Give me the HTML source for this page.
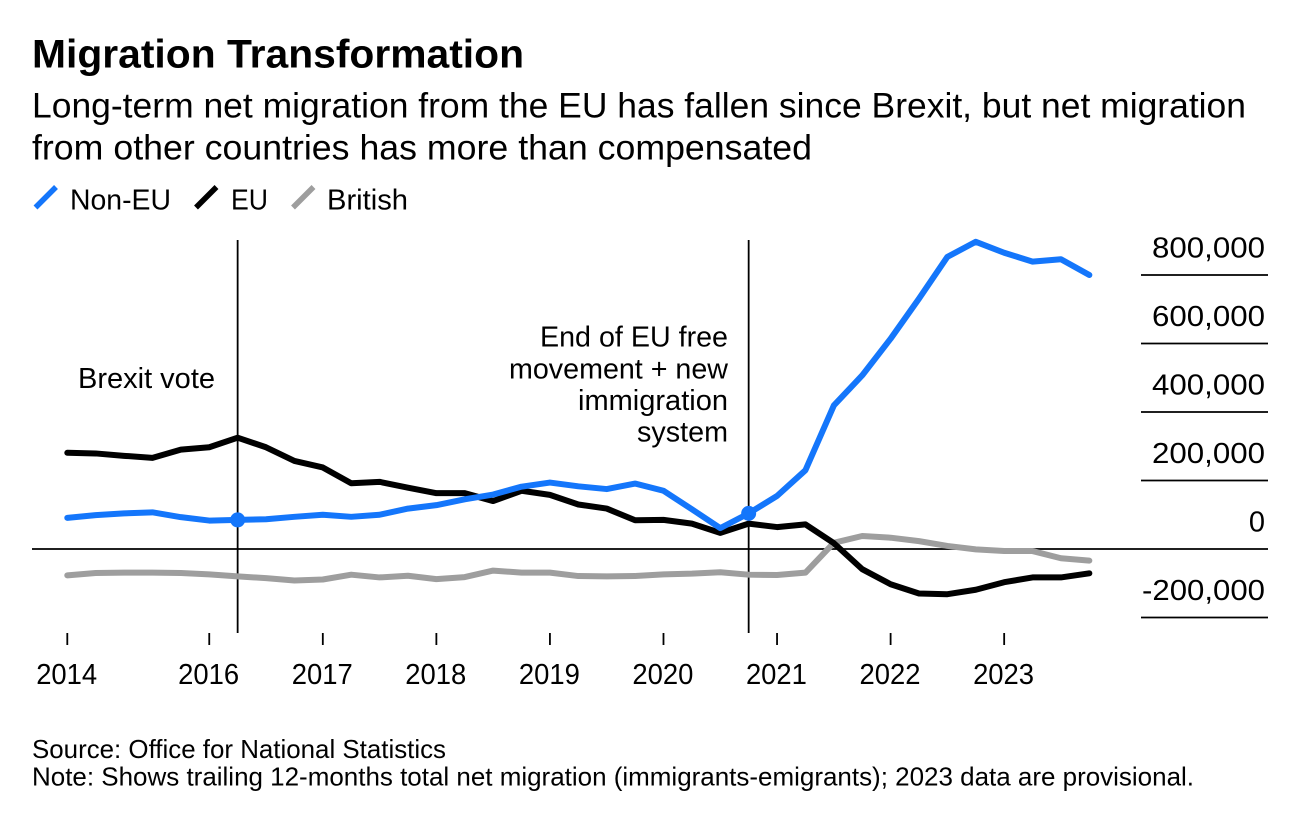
<!DOCTYPE html>
<html lang="en">
<head>
<meta charset="utf-8">
<title>Migration Transformation</title>
<style>
html,body{margin:0;padding:0;background:#fff;width:1310px;height:814px;overflow:hidden}
svg{display:block}
text{font-family:"Liberation Sans",Arial,sans-serif;fill:#000}
</style>
</head>
<body>
<svg id="chart" width="1310" height="814" viewBox="0 0 1310 814" xmlns="http://www.w3.org/2000/svg">
  <text x="32" y="67.500" font-size="40" font-weight="700" textLength="492" lengthAdjust="spacingAndGlyphs">Migration Transformation</text>
  <text x="32" y="117.500" font-size="35" textLength="1214" lengthAdjust="spacingAndGlyphs">Long-term net migration from the EU has fallen since Brexit, but net migration</text>
  <text x="32" y="159.500" font-size="35" textLength="780" lengthAdjust="spacingAndGlyphs">from other countries has more than compensated</text>

  <g>
    <line x1="35.500" y1="207.500" x2="56" y2="187" stroke="#1476fb" stroke-width="5.500"/>
    <text x="70" y="209.500" font-size="29" textLength="101" lengthAdjust="spacingAndGlyphs">Non-EU</text>
    <line x1="196" y1="207.500" x2="216.500" y2="187" stroke="#000" stroke-width="5.500"/>
    <text x="231" y="209.500" font-size="29" textLength="37" lengthAdjust="spacingAndGlyphs">EU</text>
    <line x1="293" y1="207.500" x2="313.500" y2="187" stroke="#9e9e9e" stroke-width="5.500"/>
    <text x="327" y="209.500" font-size="29" textLength="81" lengthAdjust="spacingAndGlyphs">British</text>
  </g>

  <g id="y-axis"></g>
  <g id="x-axis"></g>
  <g id="events"></g>
  <g id="series"></g>
  <g id="markers"></g>

  <text x="215" y="388" font-size="29" text-anchor="end" textLength="137" lengthAdjust="spacingAndGlyphs">Brexit vote</text>
  <g font-size="29" text-anchor="end">
    <text x="728" y="346.700" textLength="188" lengthAdjust="spacingAndGlyphs">End of EU free</text>
    <text x="728" y="378.500" textLength="219" lengthAdjust="spacingAndGlyphs">movement + new</text>
    <text x="728" y="410" textLength="150" lengthAdjust="spacingAndGlyphs">immigration</text>
    <text x="728" y="441.500" textLength="91" lengthAdjust="spacingAndGlyphs">system</text>
  </g>

  <text x="32" y="758" font-size="26" textLength="414" lengthAdjust="spacingAndGlyphs">Source: Office for National Statistics</text>
  <text x="32" y="785.700" font-size="26" textLength="1162" lengthAdjust="spacingAndGlyphs">Note: Shows trailing 12-months total net migration (immigrants-emigrants); 2023 data are provisional.</text>
</svg>
<script>
const categories = ["2014","2015 Q1","2015 Q2","2015 Q3","2015 Q4","2016 Q1","2016 Q2","2016 Q3","2016 Q4","2017 Q1","2017 Q2","2017 Q3","2017 Q4","2018 Q1","2018 Q2","2018 Q3","2018 Q4","2019 Q1","2019 Q2","2019 Q3","2019 Q4","2020 Q1","2020 Q2","2020 Q3","2020 Q4","2021 Q1","2021 Q2","2021 Q3","2021 Q4","2022 Q1","2022 Q2","2022 Q3","2022 Q4","2023 Q1","2023 Q2","2023 Q3","2023 Q4"];
const nonEuValues = [91,99,104,107,93,83,85,87,94,100,94,100,118,128,145,159,182,194,183,175,191,170,116,61,104,155,230,419,507,614,731,853,897,865,839,846,800];
const euValues = [281,279,272,266,290,297,325,297,257,238,192,196,179,163,163,140,170,158,130,118,84,85,74,47,74,64,72,17,-59,-103,-130,-132,-119,-97,-83,-83,-71];
const britishValues = [-77,-70,-69,-69,-70,-74,-80,-85,-92,-89,-75,-83,-78,-88,-82,-63,-69,-69,-79,-80,-79,-74,-72,-68,-75,-76,-69,18,38,33,23,9,-1,-6,-6,-27,-34];
const yTickValues = [800,600,400,200,0,-200];
const yTickLabels = ["800,000","600,000","400,000","200,000","0","-200,000"];
const xTickCategories = ["2014","2016 Q1","2017 Q1","2018 Q1","2019 Q1","2020 Q1","2021 Q1","2022 Q1","2023 Q1"];
const xTickLabels = ["2014","2016","2017","2018","2019","2020","2021","2022","2023"];
const eventCategories = ["2016 Q2","2020 Q4"];

const NS = "http://www.w3.org/2000/svg";
const xStep = 28.39;
const xStart = 67.3;
const yZero = 549;
const yPerThousand = 0.3425;

function xScale(category) {
  return xStart + categories.indexOf(category) * xStep;
}
function yScale(value) {
  return yZero - value * yPerThousand;
}
function make(tag, parent, attrs) {
  const el = document.createElementNS(NS, tag);
  for (const k in attrs) el.setAttribute(k, attrs[k]);
  parent.appendChild(el);
  return el;
}

const yAxis = document.getElementById("y-axis");
yTickValues.forEach(function (v, i) {
  const isZero = v === 0;
  const rule = make("line", yAxis, {x1: isZero ? 32 : 1141, x2: 1268, y1: yScale(v), y2: yScale(v), stroke: "#000", "stroke-width": 1.8});
  
  
  const label = make("text", yAxis, {x: 1265, y: yScale(v) - 17.5, "font-size": 29, "text-anchor": "end"});
  
  
  if (!isZero) {
    label.setAttribute("textLength", v < 0 ? 123 : 113);
    label.setAttribute("lengthAdjust", "spacingAndGlyphs");
  }
  label.textContent = yTickLabels[i];
});

const xAxis = document.getElementById("x-axis");
xTickCategories.forEach(function (c, i) {
  const x = xScale(c);
  const tick = make("line", xAxis, {x1: x, x2: x, y1: 633, y2: 645, stroke: "#000", "stroke-width": 1.8});
  
  
  const label = make("text", xAxis, {x: x - 0.6, y: 684, "font-size": 28.5, "text-anchor": "middle", textLength: 61, lengthAdjust: "spacingAndGlyphs"});
  
  
  label.textContent = xTickLabels[i];
});

const eventsGroup = document.getElementById("events");
eventCategories.forEach(function (c) {
  const x = xScale(c);
  const line = make("line", eventsGroup, {x1: x, x2: x, y1: 240, y2: 633, stroke: "#000", "stroke-width": 1.8});
  
  
});

function drawSeries(values, color) {
  const points = values.map(function (v, i) {
    return xScale(categories[i]) + "," + yScale(v);
  }).join(" ");
  return make("polyline", document.getElementById("series"), {points: points, fill: "none", stroke: color, "stroke-width": 6, "stroke-linejoin": "round", "stroke-linecap": "round"});
}
const britishLine = drawSeries(britishValues, "#9e9e9e");


const euLine = drawSeries(euValues, "#000000");


const nonEuLine = drawSeries(nonEuValues, "#1476fb");



const markersGroup = document.getElementById("markers");
eventCategories.forEach(function (c) {
  const dot = make("circle", markersGroup, {cx: xScale(c), cy: yScale(nonEuValues[categories.indexOf(c)]), r: 7.5, fill: "#1476fb"});
  
  
});
</script>
</body>
</html>
